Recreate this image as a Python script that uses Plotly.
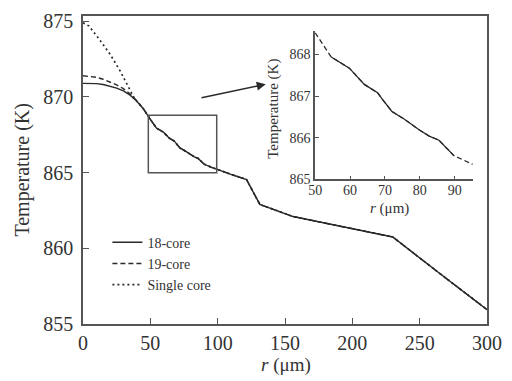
import plotly.graph_objects as go

# ---- data ----
# 18-core (solid) full profile
r_18 = [0, 5, 10, 15, 20, 25, 30, 35, 40, 45, 50, 54.6, 56.9, 59.8, 64.1, 67.9, 69.3,
        72.0, 75.5, 79.8, 82.7, 85.5, 89.8, 95, 100, 110, 121.4, 131.3, 156, 173, 200,
        230, 264, 300]
T_18 = [870.9, 870.9, 870.88, 870.82, 870.72, 870.58, 870.4, 870.12, 869.72, 869.2,
        868.52, 867.94, 867.82, 867.67, 867.28, 867.08, 866.92, 866.63, 866.45, 866.19,
        866.04, 865.94, 865.57, 865.37, 865.2, 864.88, 864.55, 862.9, 862.1, 861.78,
        861.3, 860.75, 858.4, 855.95]

# 19-core (dashed)
r_19 = [0, 5, 10, 15, 20, 25, 30, 35, 40, 45, 50, 54.6, 56.9, 59.8, 64.1, 67.9, 69.3,
        72.0, 75.5, 79.8, 82.7, 85.5, 89.8, 95, 100, 110, 121.4, 131.3, 156, 173, 200,
        230, 264, 300]
T_19 = [871.4, 871.37, 871.3, 871.17, 871.0, 870.8, 870.55, 870.2, 869.75, 869.2,
        868.52, 867.94, 867.82, 867.67, 867.28, 867.08, 866.92, 866.63, 866.45, 866.19,
        866.04, 865.94, 865.57, 865.37, 865.2, 864.88, 864.55, 862.9, 862.1, 861.78,
        861.3, 860.75, 858.4, 855.95]

# single core (dotted)
r_1 = [0, 4.3, 10.5, 20.3, 27.7, 33.9, 37.6, 40, 45, 50, 54.6, 56.9, 59.8, 64.1, 67.9,
       69.3, 72.0, 75.5, 79.8, 82.7, 85.5, 89.8, 95, 100, 110, 121.4, 131.3, 156, 173,
       200, 230, 264, 300]
T_1 = [874.9, 874.7, 874.0, 872.8, 871.7, 870.6, 870.0, 869.72, 869.2, 868.52, 867.94,
       867.82, 867.67, 867.28, 867.08, 866.92, 866.63, 866.45, 866.19, 866.04, 865.94,
       865.57, 865.37, 865.2, 864.88, 864.55, 862.9, 862.1, 861.78, 861.3, 860.75,
       858.4, 855.95]

# inset (zoomed region)
r_in = [50, 54.6, 56.9, 59.8, 64.1, 67.9, 69.3, 72.0, 75.5, 79.8, 82.7, 85.5, 89.8, 95.2]
T_in = [868.52, 867.94, 867.82, 867.67, 867.28, 867.08, 866.92, 866.63, 866.45, 866.19,
        866.04, 865.94, 865.57, 865.36]
r_in_solid = [54.6, 56.9, 59.8, 64.1, 67.9, 69.3, 72.0, 75.5, 79.8, 82.7, 85.5, 89.8]
T_in_solid = [867.94, 867.82, 867.67, 867.28, 867.08, 866.92, 866.63, 866.45, 866.19,
              866.04, 865.94, 865.57]

main_xticks = [0, 50, 100, 150, 200, 250, 300]
main_yticks = [855, 860, 865, 870, 875]
inset_xticks = [50, 60, 70, 80, 90]
inset_yticks = [865, 866, 867, 868]

FONT = "'Liberation Serif', 'DejaVu Serif', 'Times New Roman', serif"
LC = "#2a2a2a"
AX = "#555555"

W, H = 512, 381
L, R, T, B = 82.5, 23.7, 10, 56.7
PW, PH = W - L - R, H - T - B


def px(x):
    return (x - L) / PW


def py(y):
    return (H - B - y) / PH


fig = go.Figure()
fig.add_trace(go.Scatter(x=r_18, y=T_18, mode="lines", name="18-core",
                         line=dict(color=LC, width=1.4)))
fig.add_trace(go.Scatter(x=r_19, y=T_19, mode="lines", name="19-core",
                         line=dict(color=LC, width=1.4, dash="5px,3px")))
fig.add_trace(go.Scatter(x=r_1, y=T_1, mode="lines", name="Single core",
                         line=dict(color=LC, width=1.7, dash="2px,3px")))

fig.add_trace(go.Scatter(x=r_in, y=T_in, mode="lines", showlegend=False,
                         xaxis="x2", yaxis="y2",
                         line=dict(color=LC, width=1.3, dash="5px,3px")))
fig.add_trace(go.Scatter(x=r_in_solid, y=T_in_solid, mode="lines", showlegend=False,
                         xaxis="x2", yaxis="y2",
                         line=dict(color=LC, width=1.3)))

axis_common = dict(showgrid=False, zeroline=False, showline=True, linecolor=AX,
                   linewidth=1.5, ticks="inside", tickcolor=AX, tickwidth=1.3)

fig.update_layout(
    width=W, height=H,
    margin=dict(l=L, r=R, t=T, b=B),
    paper_bgcolor="white", plot_bgcolor="white",
    font=dict(family=FONT, color="#333333", size=20),
    xaxis=dict(range=[0, 300], tickvals=main_xticks, mirror=True, ticklen=6,
               tickfont=dict(size=20), **axis_common),
    yaxis=dict(range=[855, 875.35], tickvals=main_yticks, mirror=True, ticklen=6,
               tickfont=dict(size=20), ticklabelstandoff=4, **axis_common),
    xaxis2=dict(domain=[px(315.7), px(474)], range=[50, 95.2], anchor="y2",
                tickvals=inset_xticks, ticklen=4, tickfont=dict(size=14),
                ticklabelstandoff=-3, **axis_common),
    yaxis2=dict(domain=[py(176.7), py(25)], range=[865, 868.57], anchor="x2",
                tickvals=inset_yticks, ticklen=4, tickfont=dict(size=14), **axis_common),
    legend=dict(x=px(107), y=py(225), xanchor="left", yanchor="top",
                bgcolor="rgba(0,0,0,0)", font=dict(size=14, family=FONT),
                tracegroupgap=0, itemwidth=30),
    showlegend=True,
)

# zoom box on main plot
fig.add_shape(type="rect", x0=48.5, x1=99.3, y0=865, y1=868.8, xref="x", yref="y",
              line=dict(color=AX, width=1.5))

# arrow from box to inset
fig.add_annotation(x=135.7, y=870.84, ax=86.9, ay=869.93, xref="x", yref="y",
                   axref="x", ayref="y", showarrow=True, arrowhead=2, arrowsize=1.2,
                   arrowwidth=1.5, arrowcolor=LC, text="")

# axis titles
ann = dict(xref="paper", yref="paper", showarrow=False, xanchor="center",
           yanchor="middle")
fig.add_annotation(text="Temperature (K)", x=px(22), y=py(167), textangle=-90,
                   font=dict(size=20, family=FONT), **ann)
fig.add_annotation(text="<i>r</i> (μm)", x=px(286), y=py(366),
                   font=dict(size=19, family=FONT), **ann)
fig.add_annotation(text="Temperature (K)", x=px(273), y=py(105), textangle=-90,
                   font=dict(size=15, family=FONT), **ann)
fig.add_annotation(text="<i>r</i> (μm)", x=px(390), y=py(206),
                   font=dict(size=15, family=FONT), **ann)

fig.write_html("out.html",
               config={"displayModeBar": False},
               post_script="document.body.style.margin='0';"
                           "document.body.style.padding='0';")
